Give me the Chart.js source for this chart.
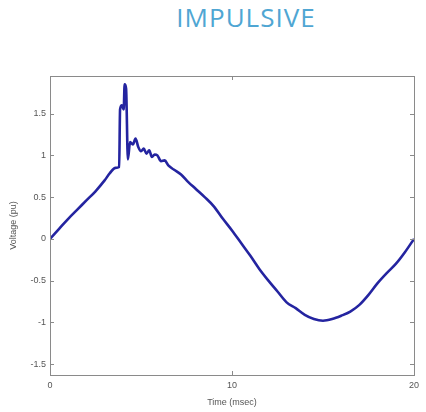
<!DOCTYPE html>
<html>
<head>
<meta charset="utf-8">
<script src="https://cdn.jsdelivr.net/npm/chart.js@4.4.1/dist/chart.umd.min.js"></script>
<style>
  html, body { margin: 0; padding: 0; background: #fff; }
  #wrap { position: relative; width: 426px; height: 412px; }
  #title {
    position: absolute; left: 136px; top: 2px; width: 220px;
    text-align: center; font-family: "Open Sans", sans-serif;
    font-size: 26px; line-height: 30px; letter-spacing: 1px; color: #4fa6d3;
  }
  canvas { position: absolute; left: 0; top: 0; }
</style>
</head>
<body>
<div id="wrap">
  <div id="title">IMPULSIVE</div>
  <canvas id="chart" width="426" height="412"></canvas>
</div>
<script>
// valores
const timeMs = [0, 0.5, 1, 1.5, 2, 2.5, 3, 3.3, 3.6, 3.8, 3.85, 3.95, 4.05, 4.1, 4.18, 4.28,
    4.4, 4.55, 4.7, 4.85, 5.0, 5.15, 5.3, 5.45, 5.6, 5.75, 5.9, 6.1, 6.3, 6.5, 6.8, 7.2,
    7.6, 8.0, 8.5, 9.0, 9.5, 10, 10.5, 11, 11.5, 12, 12.5, 13, 13.5, 14, 14.5, 15, 15.5,
    16, 16.5, 17, 17.5, 18, 18.5, 19, 19.5, 20];
const voltagePu = [0, 0.12, 0.24, 0.35, 0.46, 0.57, 0.70, 0.79, 0.85, 0.86, 1.55, 1.60, 1.55, 1.85, 1.80, 0.95,
    1.16, 1.13, 1.20, 1.10, 1.05, 1.08, 1.02, 1.06, 0.98, 1.01, 1.00, 0.93, 0.94, 0.88, 0.83, 0.77,
    0.68, 0.60, 0.50, 0.39, 0.24, 0.10, -0.05, -0.20, -0.36, -0.50, -0.63, -0.76, -0.83, -0.91, -0.96, -0.98, -0.96,
    -0.92, -0.87, -0.79, -0.67, -0.53, -0.41, -0.30, -0.16, 0.0];
const xTicks = [0, 10, 20];
const yTicks = [-1.5, -1, -0.5, 0, 0.5, 1, 1.5];

const points = timeMs.map((t, i) => ({ x: t, y: voltagePu[i] }));

// caixa e marcas para dentro, estilo MATLAB
const boxPlugin = {
    id: 'box',
    afterDraw(chart) {
        const { ctx, chartArea: a, scales } = chart;
        ctx.save();
        ctx.strokeStyle = '#8a8a8a';
        ctx.lineWidth = 1;
        ctx.strokeRect(a.left + 0.5, a.top + 0.5, a.right - a.left, a.bottom - a.top);
        ctx.beginPath();
        yTicks.forEach(v => {
            const y = Math.round(scales.y.getPixelForValue(v)) + 0.5;
            ctx.moveTo(a.left, y); ctx.lineTo(a.left + 4, y);
            ctx.moveTo(a.right, y); ctx.lineTo(a.right - 4, y);
        });
        xTicks.forEach(v => {
            const x = Math.round(scales.x.getPixelForValue(v)) + 0.5;
            ctx.moveTo(x, a.bottom); ctx.lineTo(x, a.bottom - 4);
            ctx.moveTo(x, a.top); ctx.lineTo(x, a.top + 4);
        });
        ctx.stroke();
        ctx.restore();
    }
};

const tickFont = { family: 'Arial, "Liberation Sans", sans-serif', size: 9 };

new Chart(document.getElementById('chart'), {
    type: 'line',
    data: {
        datasets: [{
            data: points,
            borderColor: '#2424a0',
            borderWidth: 2.6,
            pointRadius: 0,
            cubicInterpolationMode: 'monotone',
            fill: false
        }]
    },
    options: {
        responsive: false,
        animation: false,
        layout: { padding: { top: 76, right: 12, left: 0, bottom: 0 } },
        plugins: { legend: { display: false }, tooltip: { enabled: false } },
        scales: {
            x: {
                type: 'linear', min: 0, max: 20,
                afterBuildTicks: s => { s.ticks = xTicks.map(v => ({ value: v })); },
                afterFit: s => { s.height = 37; },
                grid: { display: false, drawTicks: false },
                border: { display: false },
                ticks: { color: '#555', font: tickFont, padding: 5, maxRotation: 0, callback: v => String(v) },
                title: { display: true, text: 'Time (msec)', color: '#555', font: tickFont, padding: { bottom: 4 } }
            },
            y: {
                min: -1.63, max: 1.95,
                afterBuildTicks: s => { s.ticks = yTicks.map(v => ({ value: v })); },
                afterFit: s => { s.width = 50; },
                grid: { display: false, drawTicks: false },
                border: { display: false },
                ticks: { color: '#555', font: tickFont, padding: 4, callback: v => String(v) },
                title: { display: true, text: 'Voltage (pu)', color: '#555', font: tickFont, padding: { top: 8 } }
            }
        }
    },
    plugins: [boxPlugin]
});
</script>
</body>
</html>
